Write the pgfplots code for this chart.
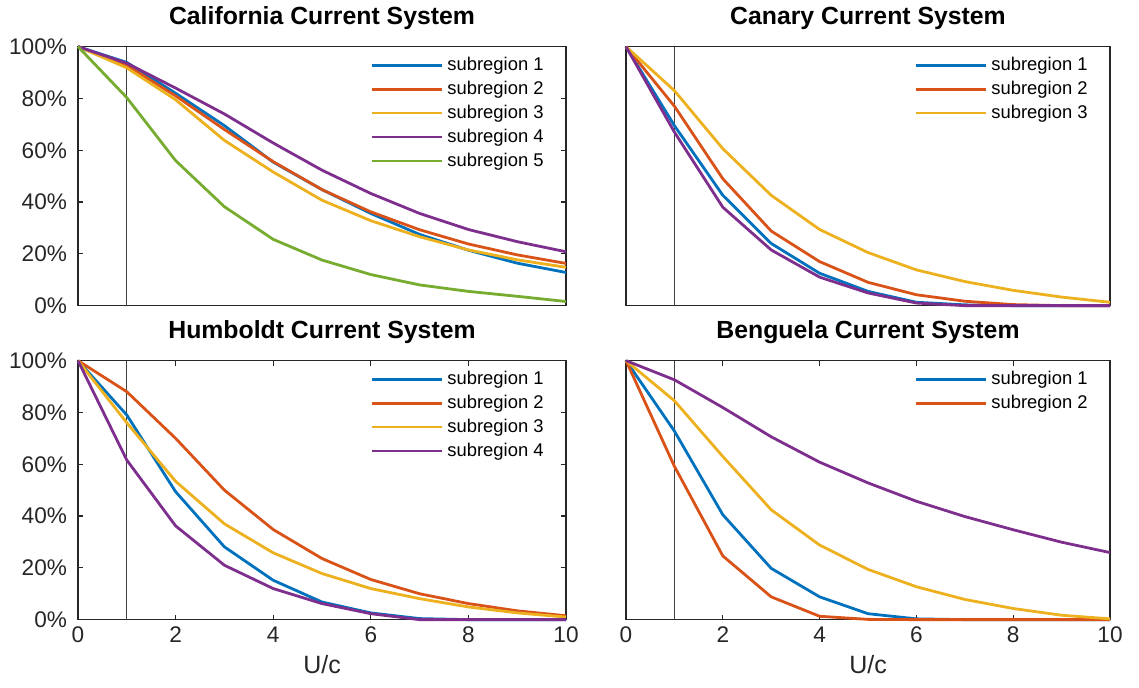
\documentclass[border=0pt]{standalone}
\usepackage{fontspec}
\setmainfont{Liberation Sans}
\usepackage{pgfplots}
\pgfplotsset{compat=1.18}

\definecolor{mblue}{rgb}{0,0.447,0.741}
\definecolor{morange}{rgb}{0.850,0.325,0.098}
\definecolor{myellow}{rgb}{0.929,0.694,0.125}
\definecolor{mpurple}{rgb}{0.494,0.184,0.556}
\definecolor{mgreen}{rgb}{0.466,0.674,0.188}
\definecolor{axgray}{gray}{0.15}

\pgfplotsset{
  panel/.style={
    scale only axis,
    height=129.5pt,
    xmin=0, xmax=10, ymin=0, ymax=100,
    axis line style={axgray, line width=0.6pt},
    tick style={axgray, line width=0.6pt},
    major tick length=2.5pt,
    clip=false,
    every axis plot/.append style={line width=1.4pt},
    title style={at={(0.5,1)}, anchor=base, yshift=5pt, font=\fontsize{12.4}{14}\selectfont\bfseries},
    tick label style={font=\fontsize{11.3}{13}\selectfont, text=axgray},
    xticklabel style={yshift=0pt},
    yticklabel style={xshift=-2pt},
    legend style={draw=none, fill=none, at={(1,1)}, anchor=north east,
      xshift=-6pt, yshift=-1pt, font=\fontsize{9.2}{11}\selectfont,
      row sep=-0.2pt, text=black},
    legend cell align=left,
    legend image code/.code={\draw[#1] (0pt,0pt) -- (35pt,0pt);},
  },
  leftp/.style={width=244pt, ytick={0,20,40,60,80,100},
    yticklabels={0\%,20\%,40\%,60\%,80\%,100\%}},
  rightp/.style={width=242pt, ytick=\empty},
  topp/.style={xtick=\empty},
  botp/.style={xtick={0,2,4,6,8,10}, xticklabels={0,2,4,6,8,10},
    xlabel={U/c},
    xlabel style={at={(0.5,0)}, anchor=base, yshift=-27pt,
      font=\fontsize{12.5}{14}\selectfont, text=axgray}},
}

\begin{document}
\begin{tikzpicture}
\path (0,0) rectangle (569.5pt,-339pt);

% California
\begin{axis}[panel, leftp, topp, at={(39pt,-148pt)}, anchor=south west,
  title={California Current System}]
\addplot[black!75, line width=0.5pt, forget plot] coordinates {(1,0) (1,100)};
\addplot[mblue] coordinates {(0,100) (1,93.9) (2,82) (3,69.5) (4,55.4) (5,44.8) (6,35.6) (7,27.5) (8,21.4) (9,16.4) (10,12.8)};
\addplot[morange] coordinates {(0,100) (1,92.8) (2,81) (3,68) (4,55.6) (5,44.8) (6,36.2) (7,29.3) (8,23.8) (9,19.6) (10,16.3)};
\addplot[myellow] coordinates {(0,100) (1,91.8) (2,79.5) (3,63.8) (4,51.6) (5,40.7) (6,32.8) (7,26.6) (8,21.5) (9,17.7) (10,14.8)};
\addplot[mpurple] coordinates {(0,100) (1,93.6) (2,84) (3,74) (4,62.8) (5,52.3) (6,43.3) (7,35.6) (8,29.4) (9,24.7) (10,20.8)};
\addplot[mgreen] coordinates {(0,100) (1,80.3) (2,56) (3,38.2) (4,25.6) (5,17.6) (6,12) (7,8) (8,5.5) (9,3.6) (10,1.6)};
\legend{subregion 1, subregion 2, subregion 3, subregion 4, subregion 5}
\end{axis}

% Canary
\begin{axis}[panel, rightp, topp, at={(313pt,-148pt)}, anchor=south west,
  title={Canary Current System}]
\addplot[black!75, line width=0.5pt, forget plot] coordinates {(1,0) (1,100)};
\addplot[mblue] coordinates {(0,100) (1,69.5) (2,42.6) (3,24) (4,12.5) (5,5.5) (6,1.3) (7,0.3) (8,0) (9,0) (10,0)};
\addplot[morange] coordinates {(0,100) (1,77) (2,49) (3,28.8) (4,17) (5,9) (6,4.2) (7,1.7) (8,0.4) (9,0) (10,0)};
\addplot[myellow] coordinates {(0,100) (1,83) (2,60.6) (3,42.6) (4,29.4) (5,20.5) (6,13.8) (7,9.3) (8,5.9) (9,3.3) (10,1.3)};
\addplot[mpurple, forget plot] coordinates {(0,100) (1,67) (2,38) (3,21.5) (4,11) (5,4.9) (6,1) (7,0) (8,0) (9,0) (10,0)};
\legend{subregion 1, subregion 2, subregion 3}
\end{axis}

% Humboldt
\begin{axis}[panel, leftp, botp, at={(39pt,-305pt)}, anchor=south west,
  title={Humboldt Current System}]
\addplot[black!75, line width=0.5pt, forget plot] coordinates {(1,0) (1,100)};
\addplot[mblue] coordinates {(0,100) (1,79) (2,49.4) (3,28.1) (4,15.2) (5,6.8) (6,2.6) (7,0.4) (8,0) (9,0) (10,0)};
\addplot[morange] coordinates {(0,100) (1,88) (2,70) (3,50) (4,34.8) (5,23.6) (6,15.5) (7,10) (8,6.2) (9,3.4) (10,1.5)};
\addplot[myellow] coordinates {(0,100) (1,76) (2,53.4) (3,37) (4,25.8) (5,17.8) (6,12) (7,8.1) (8,4.9) (9,2.6) (10,1)};
\addplot[mpurple] coordinates {(0,100) (1,61.6) (2,36.2) (3,21) (4,12) (5,6.2) (6,2.3) (7,0) (8,0) (9,0) (10,0)};
\legend{subregion 1, subregion 2, subregion 3, subregion 4}
\end{axis}

% Benguela
\begin{axis}[panel, rightp, botp, at={(313pt,-305pt)}, anchor=south west,
  title={Benguela Current System}]
\addplot[black!75, line width=0.5pt, forget plot] coordinates {(1,0) (1,100)};
\addplot[mblue] coordinates {(0,100) (1,72.8) (2,40.5) (3,19.8) (4,8.8) (5,2.3) (6,0.3) (7,0) (8,0) (9,0) (10,0)};
\addplot[morange] coordinates {(0,100) (1,59.2) (2,24.6) (3,8.8) (4,1.3) (5,0.1) (6,0) (7,0) (8,0) (9,0) (10,0)};
\addplot[myellow, forget plot] coordinates {(0,100) (1,84.5) (2,63) (3,42.4) (4,28.8) (5,19.4) (6,12.7) (7,7.8) (8,4.3) (9,1.7) (10,0.3)};
\addplot[mpurple, forget plot] coordinates {(0,100) (1,92.6) (2,81.9) (3,70.6) (4,60.8) (5,52.8) (6,45.7) (7,39.8) (8,34.7) (9,29.9) (10,25.9)};
\legend{subregion 1, subregion 2}
\end{axis}
\end{tikzpicture}
\end{document}
